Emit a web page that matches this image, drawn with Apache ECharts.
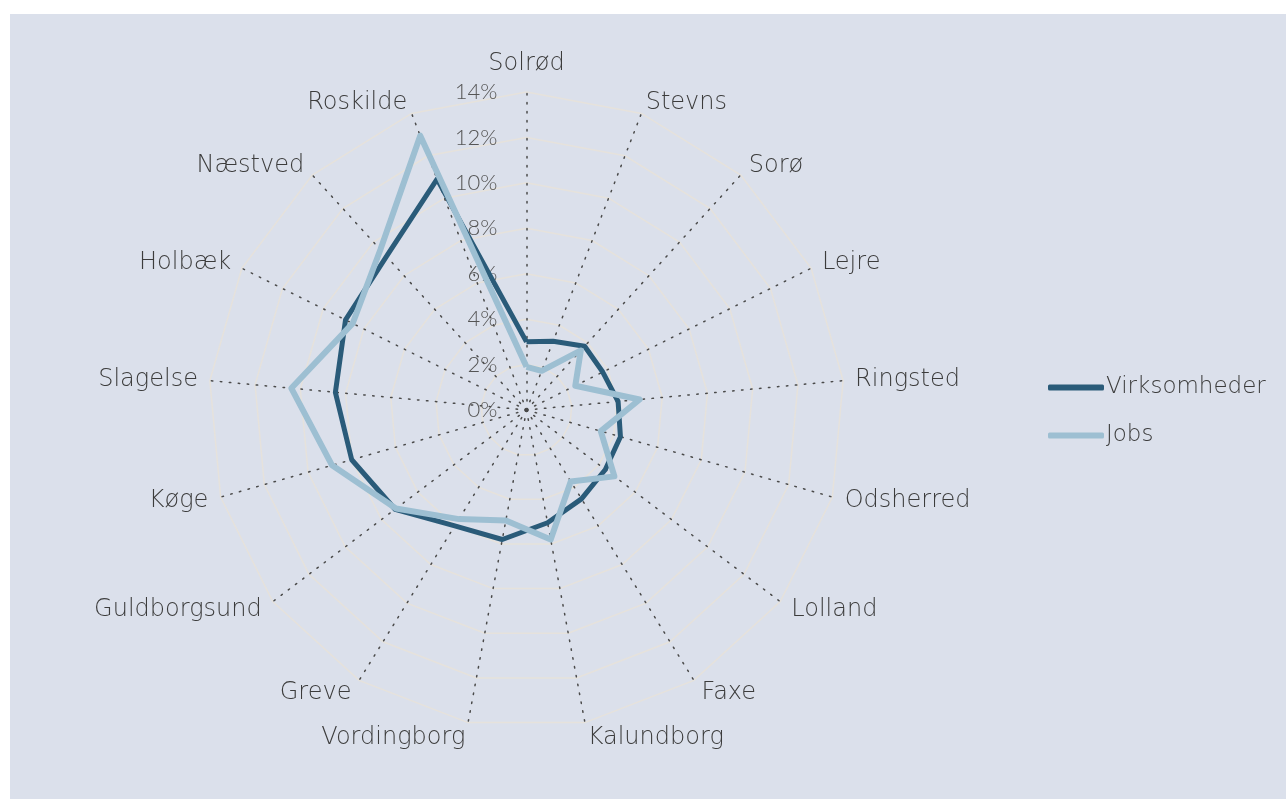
<!DOCTYPE html>
<html>
<head>
<meta charset="utf-8">
<script src="https://cdn.jsdelivr.net/npm/echarts@6/dist/echarts.min.js"></script>
<style>
  html, body { margin: 0; padding: 0; background: #ffffff; }
  #chart { position: absolute; left: 10px; top: 14px; width: 1276px; height: 785px; background: #dbe0eb; }
</style>
</head>
<body>
<div id="chart"></div>
<script>
// kommuner, clockwise from the top
const categories = ['Solrød', 'Stevns', 'Sorø', 'Lejre', 'Ringsted', 'Odsherred', 'Lolland', 'Faxe',
  'Kalundborg', 'Vordingborg', 'Greve', 'Guldborgsund', 'Køge', 'Slagelse', 'Holbæk', 'Næstved', 'Roskilde']
const virksomheder = [3.0, 3.25, 3.8, 3.75, 4.05, 4.3, 4.35, 4.6, 5.05, 5.8, 6.0, 7.25, 8.0, 8.45, 8.9, 9.15, 10.9]
const jobs = [1.9, 1.85, 3.55, 2.4, 5.0, 3.4, 4.85, 3.7, 5.8, 4.95, 5.65, 7.2, 8.9, 10.4, 8.55, 9.55, 12.95]
const tickValues = [0, 2, 4, 6, 8, 10, 12, 14]
const seriesNames = ['Virksomheder', 'Jobs']

const NAME_FONT = '"DejaVu Sans", sans-serif'
const TICK_FONT = 'Lato'
const TEXT = '#3c3c3c'
const DARK = '#2a5b79'
const LIGHT = '#9dbfd2'

// echarts lays radar indicators out counter-clockwise, so flip the order after the first
const order = [0].concat(categories.map((c, i) => i).slice(1).reverse())
const pick = (arr) => order.map(i => arr[i])

const maxVal = tickValues[tickValues.length - 1]
const step = 360 / categories.length
const indicator = pick(categories).map((name, i) => {
  const cos = Math.cos(order[i] * step * Math.PI / 180)
  return {
    name: name,
    min: tickValues[0],
    max: maxVal,
    nameGap: i === 0 ? 16 : (cos < 0 ? 12 + 3 * -cos : 12),
    axisLabel: i === 0 ? {
      show: true,
      margin: 29,
      color: '#555555',
      fontSize: 22,
      fontWeight: 300,
      fontFamily: TICK_FONT,
      formatter: (v) => v + '%'
    } : { show: false }
  }
})

const chart = echarts.init(document.getElementById('chart'))

chart.setOption({
  backgroundColor: '#dbe0eb',
  animation: false,
  legend: {
    orient: 'vertical',
    left: 1033,
    top: 357,
    itemWidth: 56,
    itemHeight: 6,
    itemGap: 25,
    icon: 'roundRect',
    textStyle: { color: TEXT, fontSize: 23, fontFamily: NAME_FONT, fontWeight: 200, padding: [0, 0, 0, -3] },
    data: seriesNames
  },
  radar: {
    center: [516.5, 396],
    radius: 318,
    startAngle: 90,
    shape: 'polygon',
    splitNumber: tickValues.length - 1,
    indicator: indicator,
    axisName: { color: TEXT, fontSize: 24, fontFamily: NAME_FONT, fontWeight: 200, padding: [3, 0, 0, 0] },
    nameGap: 12,
    axisLine: { lineStyle: { color: '#4a4a4a', width: 1.5, type: [1.5, 7.5] } },
    splitLine: { lineStyle: { color: '#e6e2dc', width: 1.5 } },
    splitArea: { show: false },
    axisTick: { show: false },
    axisLabel: { show: false }
  },
  series: [{
    type: 'radar',
    symbol: 'none',
    data: [
      {
        name: seriesNames[0],
        value: pick(virksomheder),
        itemStyle: { color: DARK },
        lineStyle: { color: DARK, width: 5 }
      },
      {
        name: seriesNames[1],
        value: pick(jobs),
        itemStyle: { color: LIGHT },
        lineStyle: { color: LIGHT, width: 6 }
      }
    ]
  }]
})
</script>
</body>
</html>
